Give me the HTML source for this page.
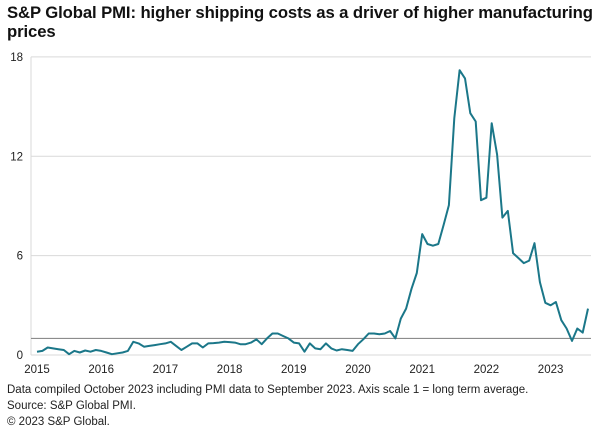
<!DOCTYPE html>
<html><head><meta charset="utf-8"><style>
body{margin:0;background:#fff;font-family:"Liberation Sans",Arial,sans-serif;}
#wrap{position:relative;width:600px;height:438px;overflow:hidden;}
.t{position:absolute;left:7px;top:3px;font-weight:bold;font-size:16.7px;line-height:19px;color:#111;width:595px;letter-spacing:-0.1px}
.f{position:absolute;left:7px;font-size:11.5px;color:#222;white-space:nowrap}
</style></head><body>
<div id="wrap">
<div class="t">S&amp;P Global PMI: higher shipping costs as a driver of higher manufacturing prices</div>
<svg id="c" width="600" height="438" style="position:absolute;left:0;top:0"></svg>
<div class="f" style="top:384px">Data compiled October 2023 including PMI data to September 2023. Axis scale 1 = long term average.</div>
<div class="f" style="top:400px">Source: S&amp;P Global PMI.</div>
<div class="f" style="top:416px">© 2023 S&amp;P Global.</div>
</div>
<script>
const yTicks=[0,6,12,18];
const xYears=["2015","2016","2017","2018","2019","2020","2021","2022","2023"];
const refValue=1;
const values=[0.2,0.25,0.45,0.4,0.35,0.3,0.05,0.25,0.15,0.27,0.2,0.3,
0.25,0.15,0.05,0.1,0.15,0.25,0.8,0.7,0.5,0.55,0.6,0.65,
0.7,0.8,0.55,0.3,0.5,0.7,0.7,0.45,0.7,0.72,0.75,0.8,
0.78,0.75,0.65,0.65,0.75,0.95,0.65,1.0,1.3,1.3,1.15,1.0,
0.75,0.7,0.2,0.7,0.4,0.35,0.7,0.4,0.27,0.35,0.3,0.25,
0.65,0.95,1.3,1.3,1.25,1.3,1.45,1.0,2.2,2.8,4.0,4.95,
7.3,6.7,6.6,6.7,7.85,9.05,14.3,17.2,16.7,14.6,14.1,9.35,
9.5,14.0,12.1,8.3,8.7,6.15,5.85,5.55,5.7,6.75,4.4,3.15,
3.0,3.2,2.1,1.6,0.85,1.6,1.35,2.8];
const NS="http://www.w3.org/2000/svg";
const svg=document.getElementById('c');
const x0=37,dx=5.35,yb=355,ppu=16.56,left=31,right=591;
const xs=i=>x0+i*dx, ys=v=>yb-v*ppu;
function mk(t,a){const e=document.createElementNS(NS,t);for(const k in a)e.setAttribute(k,a[k]);svg.appendChild(e);return e;}
yTicks.forEach(v=>{
 const g=mk('line',{x1:left,x2:right,y1:ys(v),y2:ys(v),stroke:'#d9d9d9','stroke-width':1});
 
 
 const t=mk('text',{x:23,y:ys(v)+4,'text-anchor':'end','font-size':11.5,fill:'#222','font-family':'Liberation Sans, sans-serif'});
 t.textContent=v;
 
 
});
const ax=mk('line',{x1:left,x2:left,y1:ys(18),y2:ys(0),stroke:'#d9d9d9'});


const rl=mk('line',{x1:left,x2:right,y1:ys(refValue),y2:ys(refValue),stroke:'#8c8c8c','stroke-width':1.2});


xYears.forEach((y,k)=>{
 const t=mk('text',{x:xs(k*12),y:373,'text-anchor':'middle','font-size':11.5,fill:'#222','font-family':'Liberation Sans, sans-serif'});
 t.textContent=y;
 
 
});
const p=mk('polyline',{points:values.map((v,i)=>xs(i).toFixed(1)+','+ys(v).toFixed(1)).join(' '),fill:'none',stroke:'#1b7789','stroke-width':2,'stroke-linejoin':'round'});


</script>
</body></html>
